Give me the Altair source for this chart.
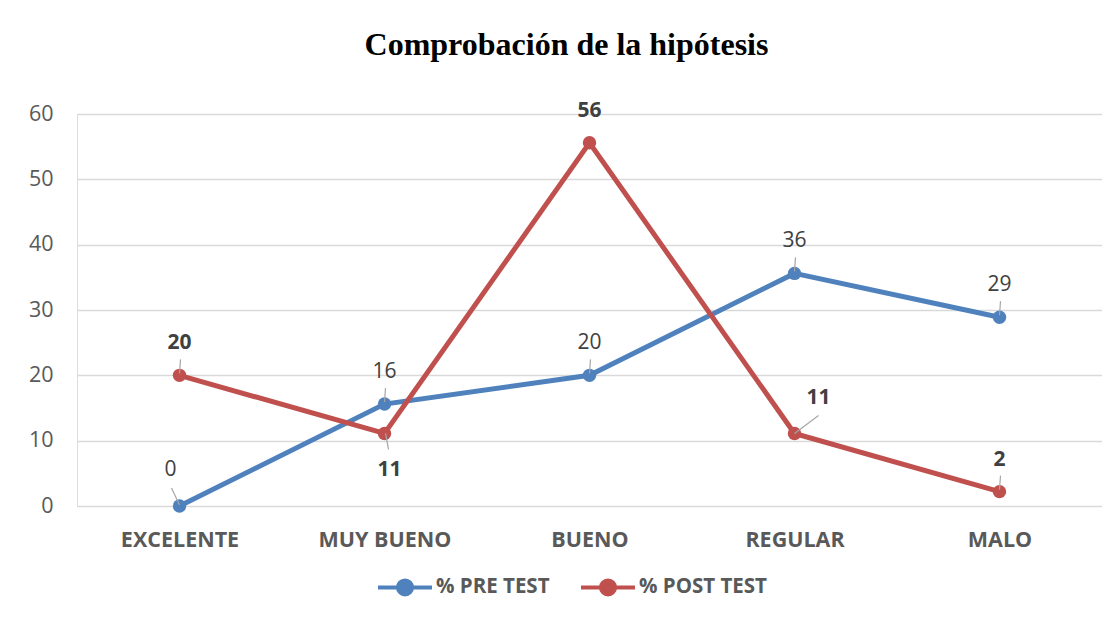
import altair as alt
import pandas as pd

categories = ["EXCELENTE", "MUY BUENO", "BUENO", "REGULAR", "MALO"]
pre_test = [0, 15.6, 20, 35.6, 28.9]
post_test = [20, 11.1, 55.6, 11.1, 2.2]
series_names = ["% PRE TEST", "% POST TEST"]
series_colors = ["#4F81BD", "#C0504D"]

rows = []
for c, v in zip(categories, pre_test):
    rows.append({"cat": c, "val": v, "serie": series_names[0]})
for c, v in zip(categories, post_test):
    rows.append({"cat": c, "val": v, "serie": series_names[1]})
df = pd.DataFrame(rows)

FONT = "Open Sans"
LABEL_COLOR = "#404040"

x = alt.X("cat:N", sort=categories, title=None,
          scale=alt.Scale(type="point", padding=0.5),
          axis=alt.Axis(labelAngle=0, labelFontWeight="bold", labelFontSize=21.5,
                        labelColor="#595959", labelFont=FONT, domain=False,
                        ticks=False, grid=False, labelPadding=23))
y = alt.Y("val:Q", title=None,
          scale=alt.Scale(domain=[0, 60], nice=False, zero=True),
          axis=alt.Axis(values=[0, 10, 20, 30, 40, 50, 60], labelFontSize=21.5,
                        labelColor="#595959", labelFont=FONT, domain=False,
                        ticks=False, gridColor="#D9D9D9", gridWidth=1.3,
                        labelPadding=24))
color = alt.Color("serie:N", sort=series_names,
                  scale=alt.Scale(domain=series_names, range=series_colors),
                  legend=alt.Legend(title=None, orient="none", direction="horizontal",
                                    legendX=299, legendY=444,
                                    symbolType="M-1,0L1,0M-0.26,0A0.26,0.26 0 1,0 0.26,0A0.26,0.26 0 1,0 -0.26,0",
                                    symbolSize=2916, symbolStrokeWidth=4,
                                    labelFont=FONT, labelFontSize=20.5,
                                    labelFontWeight="bold", labelColor="#595959",
                                    labelOffset=2, columnPadding=23))

base = alt.Chart(df).encode(x=x, y=y)

lines = base.mark_line(strokeWidth=5).encode(color=color)
points = base.mark_point(filled=True, size=180, opacity=1).encode(
    color=alt.Color("serie:N", scale=alt.Scale(domain=series_names, range=series_colors), legend=None))

PRE = "datum.serie == '% PRE TEST'"
POST = "datum.serie == '% POST TEST'"
up_filter = ("!((datum.serie == '% PRE TEST' && datum.cat == 'EXCELENTE') || "
             "(datum.serie == '% POST TEST' && (datum.cat == 'MUY BUENO' || datum.cat == 'REGULAR')))")
upleft_filter = "datum.serie == '% PRE TEST' && datum.cat == 'EXCELENTE'"
down_filter = "datum.serie == '% POST TEST' && datum.cat == 'MUY BUENO'"
upright_filter = "datum.serie == '% POST TEST' && datum.cat == 'REGULAR'"
noleader = "!(datum.serie == '% POST TEST' && datum.cat == 'BUENO')"


def leader(filt, path):
    return base.transform_filter(filt).mark_point(
        shape=path, filled=False, size=400, stroke="#A6A6A6", strokeWidth=1.2, opacity=1)


def labels(filt, dx, dy):
    out = []
    for sel, weight in ((PRE, "normal"), (POST, "bold")):
        out.append(base.transform_filter(f"({filt}) && ({sel})").mark_text(
            dx=dx, dy=dy, font=FONT, fontSize=21, color=LABEL_COLOR, baseline="middle",
            fontWeight=weight).encode(text=alt.Text("val:Q", format=".0f")))
    return out


layers = [
    lines, points,
    leader(f"({up_filter}) && ({noleader})", "M0,-0.2L0.1,-1.6"),
    leader(upleft_filter, "M0,-0.1L-0.8,-1.8"),
    leader(down_filter, "M0.1,0L0.4,1.6"),
    leader(upright_filter, "M0,0L2.4,-1.8"),
]
layers += labels(up_filter, 0, -32)
layers += labels(upleft_filter, -9, -36)
layers += labels(down_filter, 5, 37)
layers += labels(upright_filter, 24, -35)

chart = alt.layer(*layers).properties(
    width=1025, height=392,
    autosize="none",
    padding={"left": 69, "top": 106, "right": 0, "bottom": 95},
    title=alt.TitleParams("Comprobación de la hipótesis", font="Liberation Serif",
                          fontSize=32, fontWeight="bold", color="#000000",
                          anchor="middle", dx=-23, offset=38),
).configure_view(stroke=None).configure(background="white")

chart.save("out.html", embed_options={"renderer": "svg", "actions": False})
